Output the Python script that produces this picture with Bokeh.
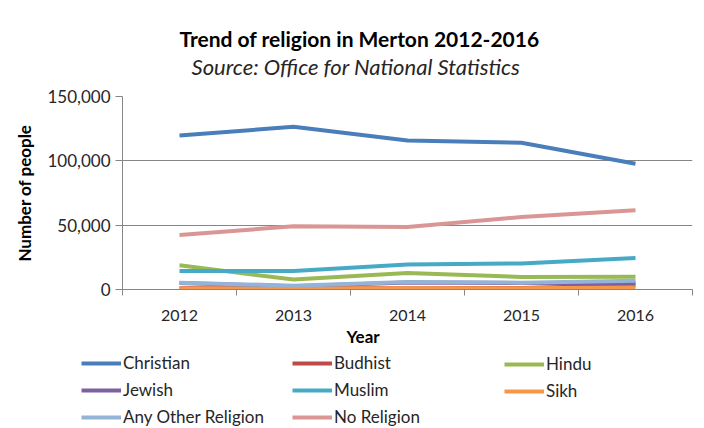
from bokeh.plotting import figure
from bokeh.models import (FixedTicker, NumeralTickFormatter, Legend, LegendItem, Title, Label)
from bokeh.embed import file_html
from bokeh.resources import INLINE

# ---- data ----
years = ["2012", "2013", "2014", "2015", "2016"]
christian = [119600, 126500, 115800, 114000, 97700]
budhist = [900, 900, 1000, 1100, 3300]
hindu = [18800, 7700, 12900, 9800, 10000]
jewish = [5000, 2600, 5500, 5000, 5000]
muslim = [14300, 14300, 19500, 20300, 24500]
sikh = [800, 800, 900, 1000, 1500]
any_other = [5300, 3000, 5900, 5300, 6800]
no_religion = [42300, 49100, 48500, 56300, 61500]

series_names = ["Christian", "Budhist", "Hindu", "Jewish", "Muslim", "Sikh",
                "Any Other Religion", "No Religion"]
series_vals = [christian, budhist, hindu, jewish, muslim, sikh, any_other, no_religion]
colors = ["#4A7EBB", "#BE4B48", "#98B954", "#7D60A0", "#46AAC5", "#F79646",
          "#95B3D7", "#D99694"]

FONT = "Lato"
TXT = "#262626"
GRID = "#868686"
W = 704
HEAD_H, MAIN_H, LEG_H = 86, 264, 78

xs = [i + 0.5 for i in range(len(years))]

# ---------- header (title + subtitle) ----------
head = figure(width=W, height=HEAD_H, output_backend="svg", toolbar_location=None,
              x_axis_location=None, y_axis_location=None, min_border=0,
              x_range=(0, 1), y_range=(0, 1))
head.outline_line_color = None
head.grid.grid_line_color = None
head.add_layout(Label(x=359, y=48, x_units="screen", y_units="screen",
                      text="Trend of religion in Merton 2012-2016",
                      text_align="center", text_baseline="middle",
                      text_font=FONT, text_font_style="bold", text_font_size="21px",
                      text_color="black"))
head.add_layout(Label(x=358, y=20, x_units="screen", y_units="screen",
                      text="Source:  Office for National Statistics",
                      text_align="center", text_baseline="middle",
                      text_font=FONT, text_font_style="italic", text_font_size="22px",
                      text_color=TXT))

# ---------- main chart ----------
p = figure(width=W, height=MAIN_H, output_backend="svg", toolbar_location=None,
           x_range=(0, len(years)), y_range=(0, 150000),
           min_border_left=122, min_border_right=12, min_border_top=10,
           min_border_bottom=MAIN_H - 10 - 193)
p.outline_line_color = None
p.title = None

p.xaxis.ticker = FixedTicker(ticks=xs, minor_ticks=list(range(len(years) + 1)))
p.xaxis.major_label_overrides = {x: y for x, y in zip(xs, years)}
p.xaxis.major_tick_out = 0
p.xaxis.major_tick_in = 0
p.xaxis.minor_tick_out = 6
p.xaxis.minor_tick_in = 0
p.xaxis.minor_tick_line_color = GRID
p.xaxis.axis_line_color = GRID
p.xaxis.major_label_standoff = 14
p.xaxis.major_label_text_font = FONT
p.xaxis.major_label_text_font_size = "16px"
p.xaxis.major_label_text_color = TXT

p.yaxis.ticker = FixedTicker(ticks=[0, 50000, 100000, 150000])
p.yaxis.formatter = NumeralTickFormatter(format="0,0")
p.yaxis.major_tick_out = 7
p.yaxis.major_tick_in = 0
p.yaxis.minor_tick_out = 0
p.yaxis.minor_tick_in = 0
p.yaxis.major_tick_line_color = GRID
p.yaxis.axis_line_color = GRID
p.yaxis.major_label_standoff = 5
p.yaxis.major_label_text_font = FONT
p.yaxis.major_label_text_font_size = "17px"
p.yaxis.major_label_text_color = TXT
p.yaxis.axis_label = "Number of people"
p.yaxis.axis_label_text_font = FONT
p.yaxis.axis_label_text_font_style = "bold"
p.yaxis.axis_label_text_font_size = "17px"
p.yaxis.axis_label_text_color = "black"
p.yaxis.axis_label_standoff = 9

p.xgrid.grid_line_color = None
p.ygrid.grid_line_color = GRID
p.ygrid.grid_line_width = 1

for vals, c in zip(series_vals, colors):
    p.line(xs, vals, line_color=c, line_width=4)

p.add_layout(Title(text="Year", align="left", offset=224, text_font=FONT,
                   text_font_style="bold", text_font_size="17px",
                   text_color="black", standoff=0), "below")

# ---------- legend strip ----------
lf = figure(width=W, height=LEG_H, output_backend="svg", toolbar_location=None,
            x_axis_location=None, y_axis_location=None, min_border=0,
            x_range=(0, 1), y_range=(0, 1))
lf.outline_line_color = None
lf.grid.grid_line_color = None
items = []
for name, vals, c in zip(series_names, series_vals, colors):
    r = lf.line(xs, vals, line_color=c, line_width=4, visible=False)
    items.append(LegendItem(label=name, renderers=[r]))

cols = [[0, 3, 6], [1, 4, 7], [2, 5]]
col_x = [81, 292, 504]
LEG_TOP = 5
for ci, idxs in enumerate(cols):
    n = len(idxs)
    h = n * 20 + (n - 1) * 6
    lg = Legend(items=[items[i] for i in idxs],
                location=(col_x[ci], LEG_H - LEG_TOP - h),
                orientation="vertical",
                padding=0, margin=0, spacing=6, glyph_width=40, glyph_height=20,
                label_height=20, label_standoff=2,
                label_text_font=FONT, label_text_font_size="17px",
                label_text_color=TXT, inactive_fill_alpha=0,
                border_line_color=None, background_fill_alpha=0)
    lf.add_layout(lg, "center")

open("out.html", "w").write(file_html([head, p, lf], INLINE))
